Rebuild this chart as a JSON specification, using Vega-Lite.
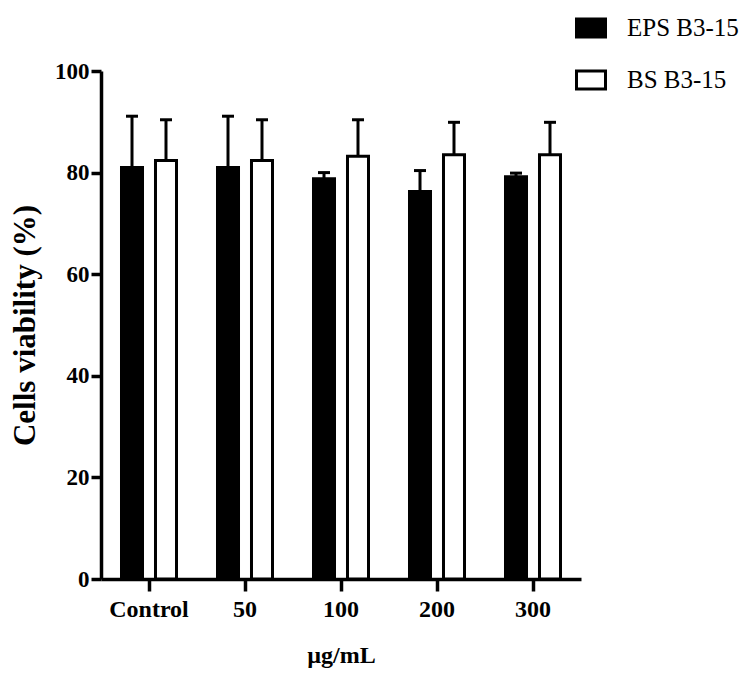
{
  "$schema": "https://vega.github.io/schema/vega-lite/v6.json",
  "autosize": "none",
  "width": 480,
  "height": 508,
  "padding": {"left": 101, "top": 71, "right": 164, "bottom": 97},
  "background": "white",
  "config": {
    "view": {"stroke": null},
    "font": "Liberation Serif",
    "axis": {
      "grid": false,
      "domainColor": "black",
      "domainWidth": 3.5,
      "tickColor": "black",
      "tickWidth": 3.5,
      "labelColor": "black",
      "titleColor": "black",
      "labelFont": "Liberation Serif",
      "titleFont": "Liberation Serif",
      "labelFontWeight": "bold",
      "titleFontWeight": "bold"
    }
  },
  "data": {
    "values": [
      {"dose": "Control", "sample": "EPS B3-15", "viability": 81.0, "upper": 91.1},
      {"dose": "Control", "sample": "BS B3-15", "viability": 82.4, "upper": 90.4},
      {"dose": "50", "sample": "EPS B3-15", "viability": 81.0, "upper": 91.1},
      {"dose": "50", "sample": "BS B3-15", "viability": 82.4, "upper": 90.4},
      {"dose": "100", "sample": "EPS B3-15", "viability": 78.8, "upper": 80.0},
      {"dose": "100", "sample": "BS B3-15", "viability": 83.2, "upper": 90.4},
      {"dose": "200", "sample": "EPS B3-15", "viability": 76.3, "upper": 80.4},
      {"dose": "200", "sample": "BS B3-15", "viability": 83.5, "upper": 89.9},
      {"dose": "300", "sample": "EPS B3-15", "viability": 79.2, "upper": 79.9},
      {"dose": "300", "sample": "BS B3-15", "viability": 83.5, "upper": 89.9}
    ]
  },
  "encoding": {
    "x": {
      "field": "dose",
      "type": "nominal",
      "sort": ["Control", "50", "100", "200", "300"],
      "scale": {"paddingInner": 0, "paddingOuter": 0},
      "axis": {
        "title": "µg/mL",
        "labelAngle": 0,
        "labelFontSize": 24,
        "titleFontSize": 24,
        "tickSize": 12,
        "labelPadding": 6,
        "titlePadding": 22
      }
    },
    "xOffset": {
      "field": "sample",
      "type": "nominal",
      "sort": ["EPS B3-15", "BS B3-15"],
      "scale": {"paddingInner": 0.382, "paddingOuter": 0.603}
    }
  },
  "layer": [
    {
      "mark": {"type": "bar", "stroke": "black", "strokeWidth": 3},
      "encoding": {
        "y": {
          "field": "viability",
          "type": "quantitative",
          "scale": {"domain": [0, 100], "nice": false},
          "axis": {
            "title": "Cells viability (%)",
            "values": [0, 20, 40, 60, 80, 100],
            "labelFontSize": 23,
            "titleFontSize": 31,
            "tickSize": 10,
            "labelPadding": 2,
            "titlePadding": 13
          }
        },
        "fill": {
          "field": "sample",
          "type": "nominal",
          "sort": ["EPS B3-15", "BS B3-15"],
          "scale": {"domain": ["EPS B3-15", "BS B3-15"], "range": ["black", "white"]},
          "legend": {
            "title": null,
            "orient": "none",
            "legendX": 474,
            "legendY": -59,
            "padding": 0,
            "symbolType": "M-1,-0.62L1,-0.62L1,0.62L-1,0.62Z",
            "symbolSize": 841,
            "symbolStrokeColor": "black",
            "symbolStrokeWidth": 3,
            "labelFont": "Liberation Serif",
            "labelFontSize": 25,
            "labelColor": "black",
            "labelOffset": 20,
            "rowPadding": 21
          }
        }
      }
    },
    {
      "mark": {"type": "rule", "stroke": "black", "strokeWidth": 3},
      "encoding": {
        "y": {"field": "viability", "type": "quantitative"},
        "y2": {"field": "upper"}
      }
    },
    {
      "mark": {"type": "tick", "color": "black", "size": 12, "thickness": 3, "opacity": 1},
      "encoding": {
        "y": {"field": "upper", "type": "quantitative"}
      }
    }
  ]
}
